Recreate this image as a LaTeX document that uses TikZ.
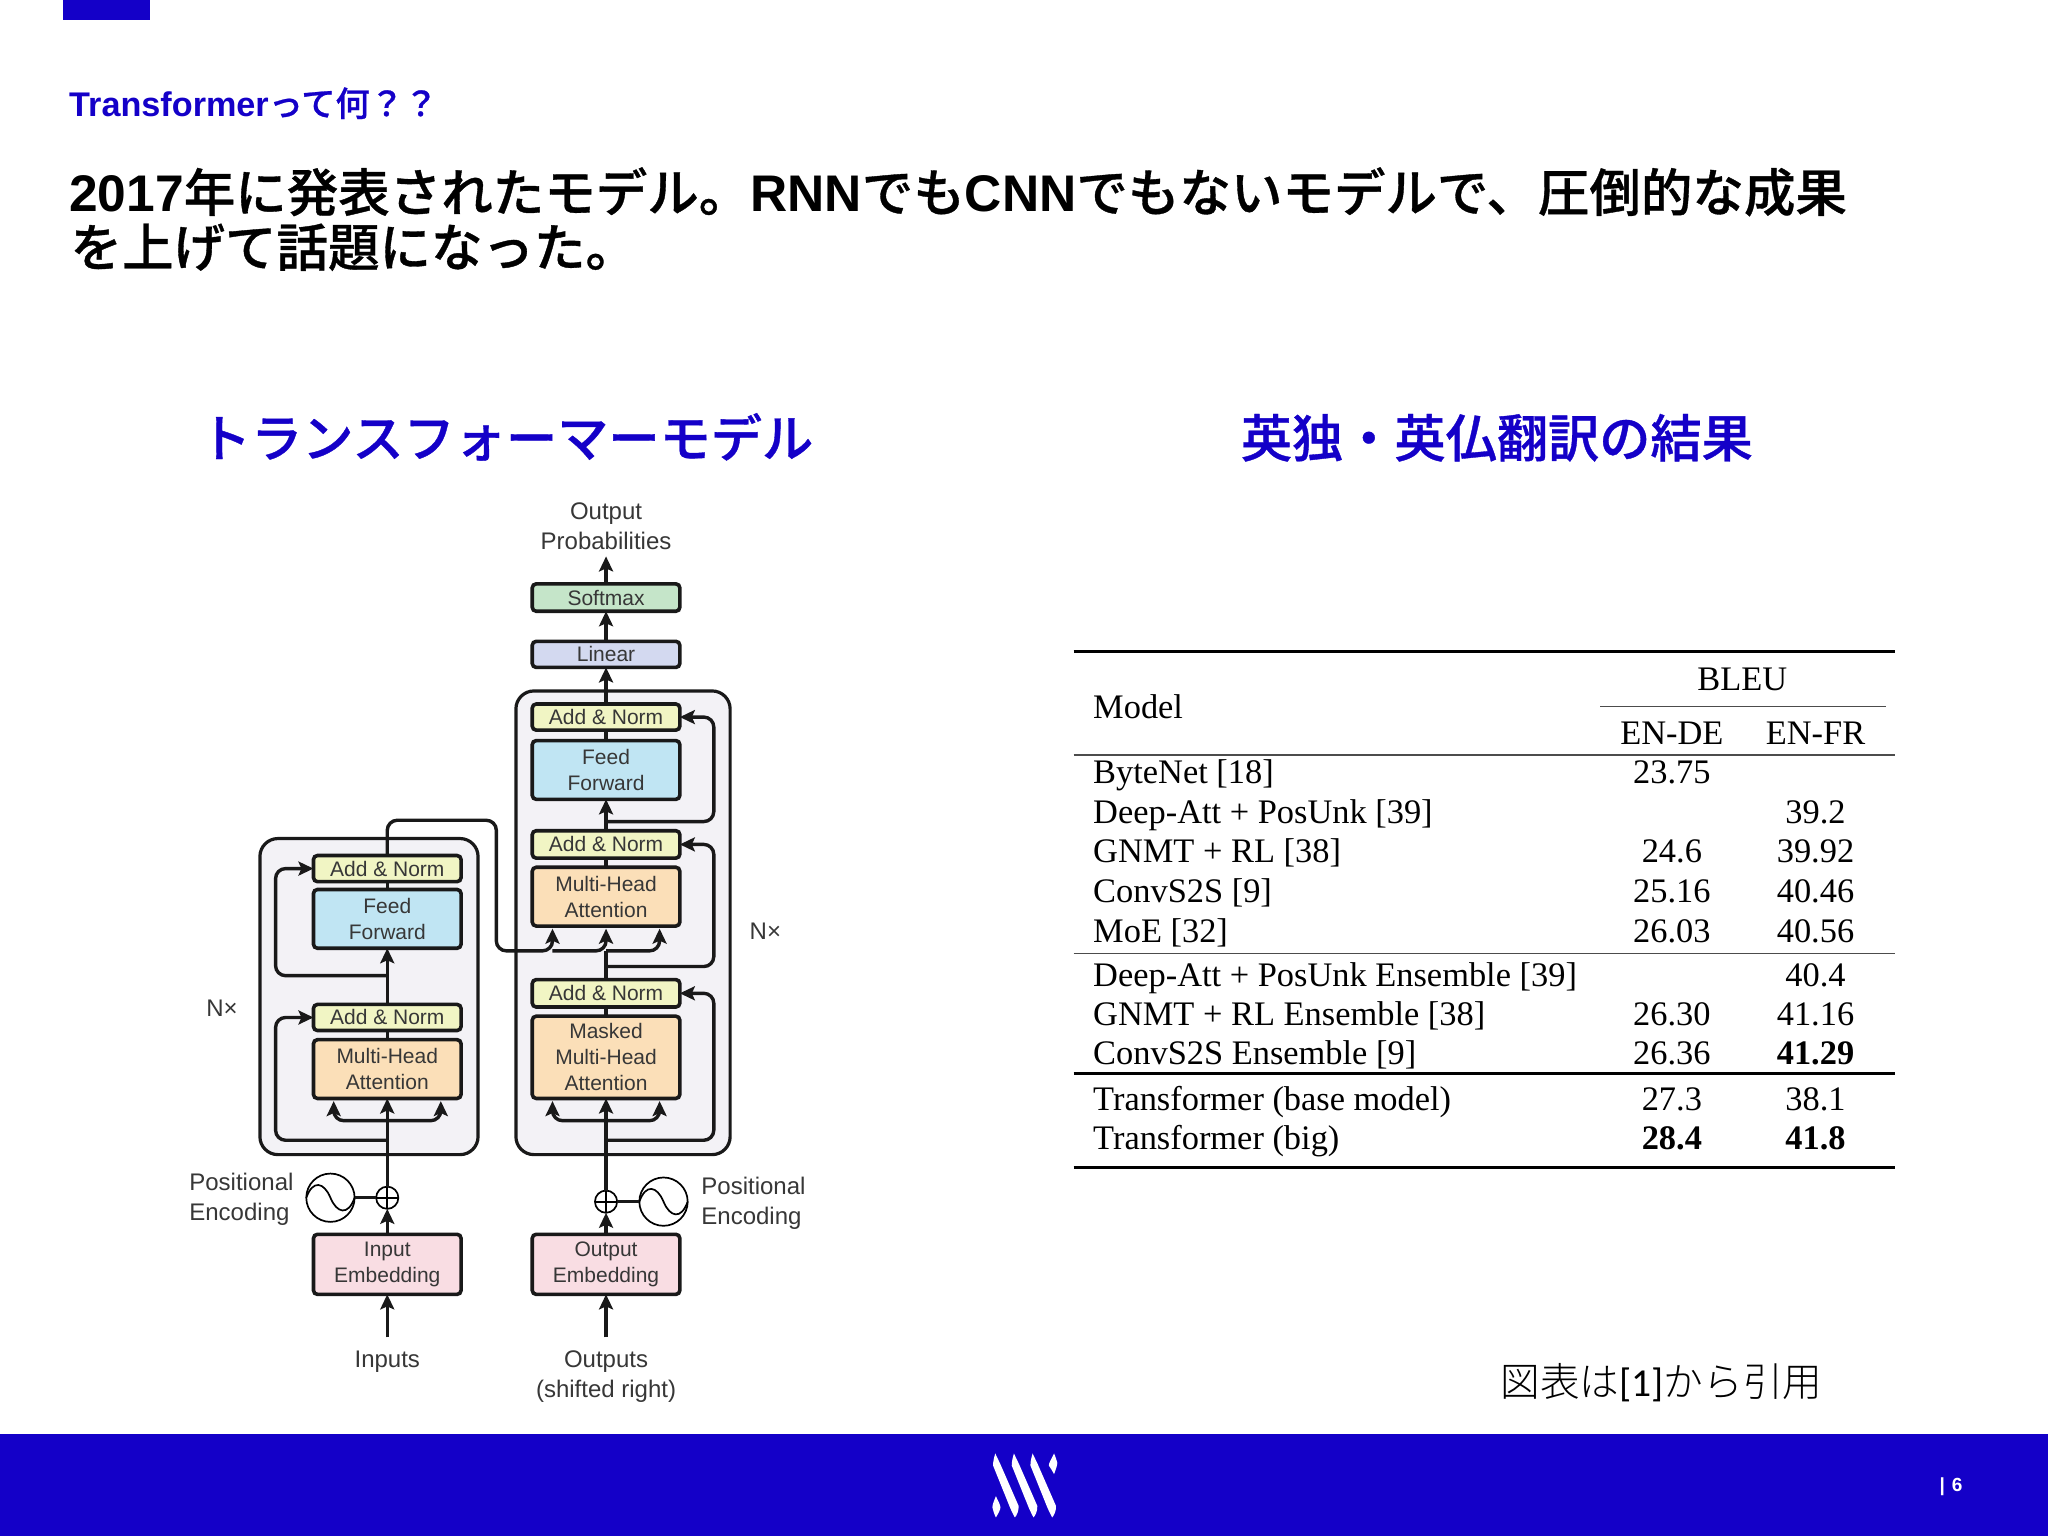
\documentclass[tikz,border=0pt]{standalone}
\usepackage{fontspec}
\setmainfont{Liberation Sans}
\newfontfamily\jpf[FakeBold=0.7]{Noto Sans CJK JP Medium}
\newfontfamily\jpl{Noto Sans CJK JP Light}
\newfontfamily\tabfont{Liberation Serif}
\newfontfamily\crlf{Carlito}
\usetikzlibrary{arrows.meta,calc}
\definecolor{brand}{RGB}{20,0,200}
\definecolor{cAN}{RGB}{241,245,196}
\definecolor{cFF}{RGB}{192,229,243}
\definecolor{cMH}{RGB}{251,223,184}
\definecolor{cEM}{RGB}{249,221,227}
\definecolor{cSO}{RGB}{197,229,201}
\definecolor{cLI}{RGB}{211,217,240}
\definecolor{cBL}{RGB}{243,242,246}
\definecolor{ink}{RGB}{55,55,55}
\tikzset{
  sz/.style 2 args={minimum width=#1*0.65306pt,minimum height=#2*0.65306pt},
  layerbox/.style={draw=black!90,line width=1.8pt,rounded corners=2pt,inner sep=0pt,outer sep=0pt,align=center,text=ink,
    font=\fontsize{10.5}{13}\selectfont},
  blockbox/.style={draw=black!90,line width=1.6pt,rounded corners=9pt,fill=cBL,inner sep=0pt,outer sep=0pt},
  conn/.style={draw=black!90,line width=1.7pt,-{Stealth[length=7.5pt,width=7pt,inset=1.5pt]}},
  both/.style={draw=black!90,line width=1.7pt,{Stealth[length=7.5pt,width=7pt,inset=1.5pt]}-{Stealth[length=7.5pt,width=7pt,inset=1.5pt]}},
  wire/.style={draw=black!90,line width=1.7pt},
  round1/.style={rounded corners=5pt},
  lbl/.style={inner sep=0pt,outer sep=0pt,align=center,text=ink,font=\fontsize{12}{15}\selectfont},
  lblL/.style={lbl,align=left},
  ttl/.style={inner sep=0pt,outer sep=0pt,anchor=base west},
  tabl/.style={inner sep=0pt,outer sep=0pt,anchor=base west,text=black,font=\tabfont\fontsize{17.2}{20}\selectfont},
  tabc/.style={inner sep=0pt,outer sep=0pt,anchor=base,text=black,font=\tabfont\fontsize{17.2}{20}\selectfont},
  sinec/.style={draw=black,line width=0.85pt,circle,fill=white,minimum size=37*0.65306pt,inner sep=0pt,outer sep=0pt},
  plusc/.style={draw=black,line width=0.85pt,circle,fill=white,minimum size=17*0.65306pt,inner sep=0pt,outer sep=0pt},
  thinl/.style={draw=black,line width=0.85pt},
}
\newcommand{\trow}[5]{%
  \node[tabl] (m#1) at (837,#2) {#3};
  \node[tabc] (d#1) at (1280,#2) {#4};
  \node[tabc] (f#1) at (1390,#2) {#5};
}
\begin{document}
\begin{tikzpicture}[x=0.65306pt,y=-0.65306pt]
\useasboundingbox (0,0) rectangle (1568,1176);
\fill[white] (0,0) rectangle (1568,1176);
% slide furniture
\fill[brand] (48,0) rectangle (115,15);
\fill[brand] (0,1098) rectangle (1568,1176);
% logo
\foreach \dx in {0,14.3,28.6}{
  \fill[white,xshift=\dx*0.65306pt] (762,1112.8) .. controls (761,1116) and (760.3,1119) .. (760.3,1122)
    -- (773.2,1154) .. controls (774.5,1157) and (776,1160) .. (777,1161.8)
    .. controls (778.5,1160) and (780,1157) .. (779.9,1153)
    -- (765.9,1121) .. controls (764.5,1118) and (763,1115) .. (762,1112.8) -- cycle;
}
\fill[white] (807,1112.8) .. controls (805,1117) and (803,1120) .. (803,1122) .. controls (804,1124) and (806,1126) .. (807,1128.6)
  .. controls (808,1126) and (809.5,1122) .. (809.5,1120) .. controls (809,1118) and (808,1115) .. (807,1112.8) -- cycle;
\fill[white] (762.5,1145.5) .. controls (761,1149) and (759.8,1152) .. (759.8,1154) .. controls (760.5,1157) and (761.5,1160) .. (762.5,1161.8)
  .. controls (763.5,1160) and (766,1156) .. (766,1154) .. controls (765.5,1151) and (763.5,1148) .. (762.5,1145.5) -- cycle;
\node[ttl,text=white,font=\bfseries\fontsize{9.5}{10}\selectfont] (pg) at (1485,1142) {|\hspace{3.5pt}6};
% headings
\node[ttl,text=brand,font=\bfseries\fontsize{17.1}{20}\selectfont] (t0) at (53,89) {Transformer{\jpf\mdseries って何？？}};
\node[ttl,text=black,font=\bfseries\fontsize{25.75}{28}\selectfont] (t1) at (53,162) {2017{\jpf\mdseries 年に発表されたモデル。}RNN{\jpf\mdseries でも}CNN{\jpf\mdseries でもないモデルで、圧倒的な成果}};
\node[ttl,text=black,font=\jpf\fontsize{25.75}{28}\selectfont] (t2) at (54,204) {を上げて話題になった。};
\node[ttl,text=brand,font=\jpf\fontsize{25.6}{28}\selectfont] (h1) at (153,350) {トランスフォーマーモデル};
\node[ttl,text=brand,font=\jpf\fontsize{25.6}{28}\selectfont] (h2) at (950,350) {英独・英仏翻訳の結果};
\node[ttl,text=black,font=\jpl\fontsize{19.8}{24}\selectfont] (cite) at (1149,1069) {図表は{\crlf [1]}から引用};
% blocks
\node[blockbox,sz={167}{242}] (encblock) at (282.5,763) {};
\node[blockbox,sz={164}{355}] (decblock) at (477,706.5) {};
% encoder layers
\node[layerbox,fill=cEM,sz={113}{46}] (einp) at (296.5,968) {Input\\Embedding};
\node[layerbox,fill=cMH,sz={113}{45}] (emha) at (296.5,818.5) {Multi-Head\\Attention};
\node[layerbox,fill=cAN,sz={113}{20}] (ean1) at (296.5,779) {Add \& Norm};
\node[layerbox,fill=cFF,sz={113}{45}] (eff) at (296.5,703.5) {Feed\\Forward};
\node[layerbox,fill=cAN,sz={113}{20}] (ean2) at (296.5,665) {Add \& Norm};
% decoder layers
\node[layerbox,fill=cEM,sz={113}{46}] (dinp) at (464,968) {Output\\Embedding};
\node[layerbox,fill=cMH,sz={113}{63}] (dmm) at (464,809.5) {Masked\\Multi-Head\\Attention};
\node[layerbox,fill=cAN,sz={113}{21}] (dan3) at (464,760.5) {Add \& Norm};
\node[layerbox,fill=cMH,sz={113}{45}] (dmha) at (464,686.5) {Multi-Head\\Attention};
\node[layerbox,fill=cAN,sz={113}{21}] (dan2) at (464,646.5) {Add \& Norm};
\node[layerbox,fill=cFF,sz={113}{45}] (dff) at (464,589.5) {Feed\\Forward};
\node[layerbox,fill=cAN,sz={113}{20}] (dan1) at (464,549) {Add \& Norm};
\node[layerbox,fill=cLI,sz={113}{20}] (lin) at (464,501) {Linear};
\node[layerbox,fill=cSO,sz={113}{21}] (soft) at (464,457.5) {Softmax};
% labels
\node[lbl] (prob) at (464,403) {Output\\Probabilities};
\node[lbl] (inp) at (296.5,1042.5) {Inputs};
\node[lbl] (outp) at (464,1054) {Outputs\\(shifted right)};
\node[lblL,anchor=west] (pe1) at (145,918) {Positional\\Encoding};
\node[lblL,anchor=west] (pe2) at (537,921) {Positional\\Encoding};
\node[lbl] (nx1) at (170,772) {N×};
\node[lbl] (nx2) at (586,713) {N×};
% positional encoding
\node[plusc] (p1) at (296.5,917) {};
\node[plusc] (p2) at (464,920) {};
\node[sinec] (s1) at (253,917) {};
\node[sinec] (s2) at (508,920) {};
\draw[thinl] (p1.north)--(p1.south) (p1.west)--(p1.east) (p2.north)--(p2.south) (p2.west)--(p2.east);
\foreach \s in {s1,s2}{
  \draw[thinl] (\s.west) .. controls +(5,-14) and +(-5,-12) .. (\s.center) .. controls +(5,12) and +(-5,14) .. (\s.east);
}
\draw[wire] (s1.east)--(p1.west);
\draw[wire] (s2.west)--(p2.east);
% free ends
\coordinate (inb) at (296.5,1024);
\coordinate (outb) at (464,1024);
\coordinate (probb) at (464,426);
\coordinate (xe) at (211,0);
\coordinate (xd) at (546.5,0);
\coordinate (j1) at (296.5,873);
\coordinate (j2) at (296.5,747);
\coordinate (j3) at (464,873);
\coordinate (j4) at (464,740);
\coordinate (j5) at (464,629);
\coordinate (j6) at (464,728);
\coordinate (top) at (296.5,628);
\coordinate (c1) at (380,628);
\coordinate (c2) at (380,728);
\coordinate (fy) at (0,858);
\coordinate (ga) at (423,728);
\coordinate (gc) at (505,728);
\coordinate (ta) at ($(dmha.south)+(-41,2)$);
\coordinate (tb) at ($(dmha.south)+(0,2)$);
\coordinate (tc) at ($(dmha.south)+(41,2)$);
\coordinate (ea) at ($(emha.south)+(-41,2)$);
\coordinate (eb) at ($(emha.south)+(41,2)$);
\coordinate (da) at ($(dmm.south)+(-41,2)$);
\coordinate (db) at ($(dmm.south)+(41,2)$);
% encoder connectors
\draw[conn] (inb)--(einp.south);
\draw[conn] (einp.north)--(p1.south);
\draw[conn] (p1.north)--(emha.south);
\draw[wire] (emha.north)--(ean1.south);
\draw[conn] (ean1.north)--(eff.south);
\draw[wire] (eff.north)--(ean2.south);
\draw[conn,round1] (j1)--(j1 -| xe)--(xe |- ean1.west)--(ean1.west);
\draw[conn,round1] (j2)--(j2 -| xe)--(xe |- ean2.west)--(ean2.west);
\draw[both,round1] (ea)--(ea |- fy)--(eb |- fy)--(eb);
% decoder connectors
\draw[conn] (outb)--(dinp.south);
\draw[conn] (dinp.north)--(p2.south);
\draw[conn] (p2.north)--(dmm.south);
\draw[wire] (dmm.north)--(dan3.south);
\draw[wire] (dan3.north)--(j6);
\draw[conn] (dan2.north)--(dff.south);
\draw[wire] (dmha.north)--(dan2.south);
\draw[wire] (dff.north)--(dan1.south);
\draw[conn] (dan1.north)--(lin.south);
\draw[conn] (lin.north)--(soft.south);
\draw[conn] (soft.north)--(probb);
\draw[conn,round1] (j3)--(j3 -| xd)--(xd |- dan3.east)--(dan3.east);
\draw[conn,round1] (j4)--(j4 -| xd)--(xd |- dan2.east)--(dan2.east);
\draw[conn,round1] (j5)--(j5 -| xd)--(xd |- dan1.east)--(dan1.east);
\draw[both,round1] (da)--(da |- fy)--(db |- fy)--(db);
% cross attention
\draw[conn,round1] (ean2.north)--(top)--(c1)--(c2)--(ga)--(ta);
\draw[conn,round1] (ga)--(j6)--(tb);
\draw[conn,round1] (j6)--(gc)--(tc);
% table
\draw[line width=1.5pt] (822,499)--(1451,499);
\draw[line width=0.5pt,black!70] (1225,541)--(1444,541);
\draw[line width=0.8pt,black!70] (822,578)--(1451,578);
\draw[line width=0.8pt,black!70] (822,730)--(1451,730);
\draw[line width=1.6pt] (822,822)--(1451,822);
\draw[line width=1.2pt] (822,894)--(1451,894);
\node[tabc] (bleu) at (1334,529) {BLEU};
\node[tabl] (modl) at (837,550) {Model};
\node[tabc] (ende) at (1280,570) {EN-DE};
\node[tabc] (enfr) at (1390,570) {EN-FR};
\trow{a}{600}{ByteNet [18]}{23.75}{}
\trow{b}{630.5}{Deep-Att + PosUnk [39]}{}{39.2}
\trow{c}{660.5}{GNMT + RL [38]}{24.6}{39.92}
\trow{d}{691}{ConvS2S [9]}{25.16}{40.46}
\trow{e}{721.5}{MoE [32]}{26.03}{40.56}
\trow{g}{755}{Deep-Att + PosUnk Ensemble [39]}{}{40.4}
\trow{h}{785}{GNMT + RL Ensemble [38]}{26.30}{41.16}
\trow{i}{815}{ConvS2S Ensemble [9]}{26.36}{\bfseries 41.29}
\trow{j}{850}{Transformer (base model)}{27.3}{38.1}
\trow{k}{880}{Transformer (big)}{\bfseries 28.4}{\bfseries 41.8}
\end{tikzpicture}
\end{document}
